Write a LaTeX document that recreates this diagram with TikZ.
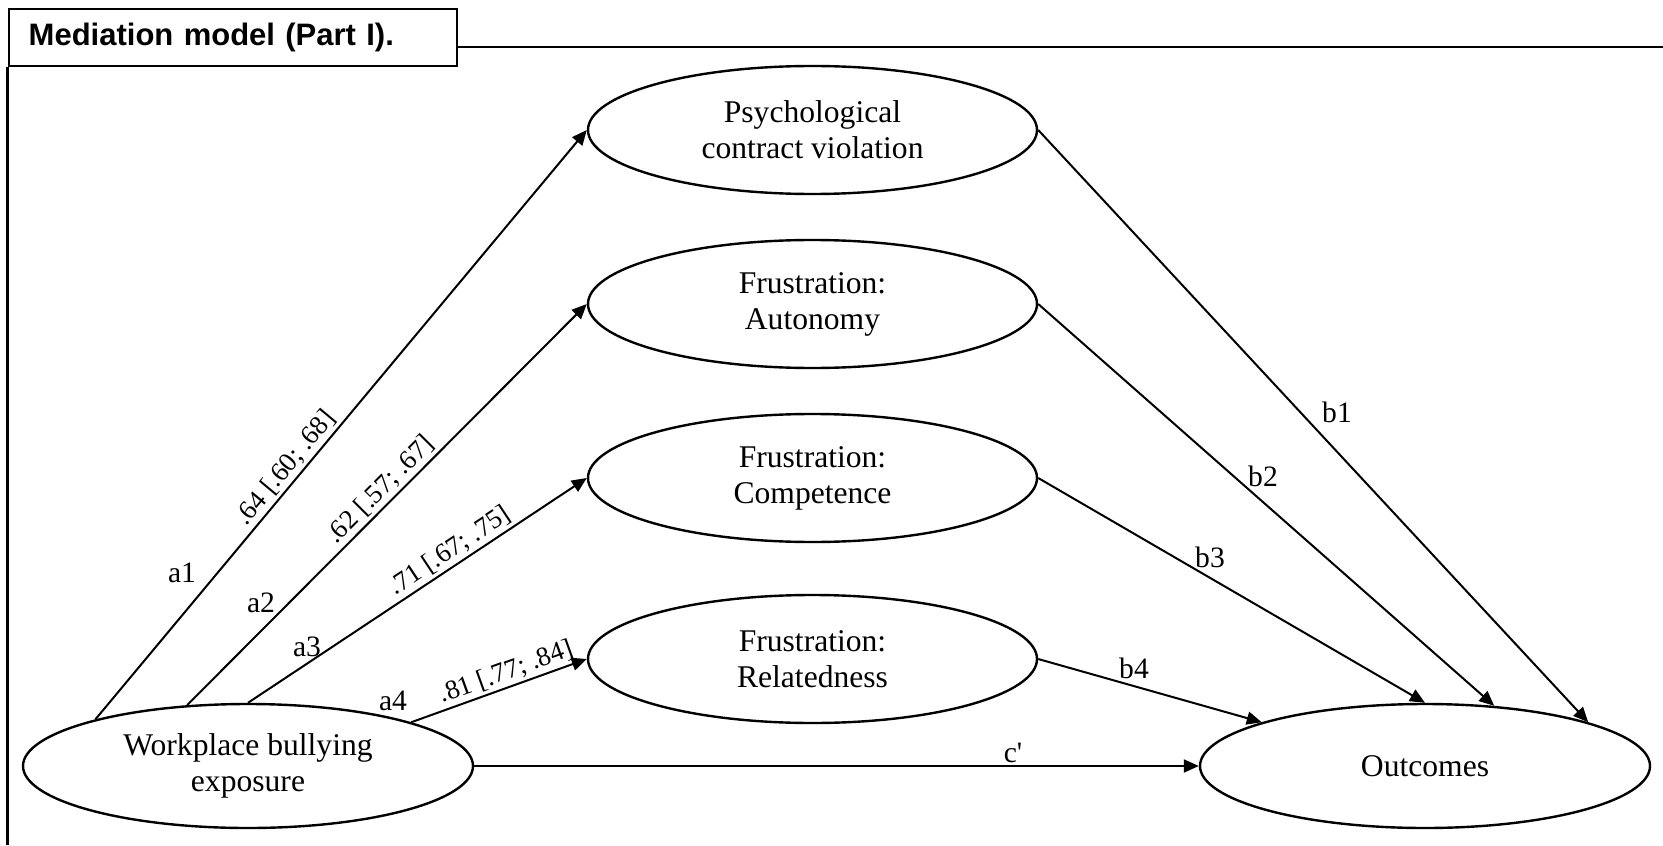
\documentclass[tikz,border=0pt]{standalone}
\usepackage{fontspec}
\setmainfont{Liberation Serif}
\newfontfamily\titlefont{Liberation Sans}
\usetikzlibrary{shapes.geometric,arrows.meta}
\begin{document}
\begin{tikzpicture}[x=0.5pt,y=-0.5pt,
  var/.style={ellipse, draw, line width=1.2pt, minimum width=224.5pt, minimum height=64pt,
    inner sep=0pt, align=center, font=\fontsize{15.8}{18}\selectfont},
  conn/.style={line width=1pt, -{Triangle[length=7.5pt,width=6.5pt]}},
  lab/.style={inner sep=0pt, font=\fontsize{14.8}{17}\selectfont},
  coef/.style={sloped, above, inner sep=1.2pt, font=\fontsize{13.5}{15}\selectfont},
  frame/.style={line width=1.2pt}
]
\useasboundingbox (0,0) rectangle (1663,845);

% title box and frame
\node[draw, line width=1pt, anchor=north west, minimum width=224.25pt, minimum height=28.4pt,
  inner xsep=10pt, inner ysep=0pt, text width=204pt, align=left,
  font=\titlefont\bfseries\fontsize{15.5}{18}\selectfont] (title) at (7.5,8.3) {Mediation model (Part I).};
\coordinate (ftop) at (1663,47);
\coordinate (fbot) at (7.5,845);
\draw[frame] (title.east |- ftop) -- (ftop);
\draw[frame] (title.south west) -- (fbot);

% variables
\node[var] (pcv) at (812.5,130) {Psychological\\contract violation};
\node[var] (aut) at (812.5,304) {Frustration:\\Autonomy};
\node[var] (comp) at (812.5,478) {Frustration:\\Competence};
\node[var] (rel) at (812.5,659) {Frustration:\\Relatedness};
\node[var, minimum width=225pt, minimum height=62pt] (wb) at (248,766) {Workplace bullying\\exposure};
\node[var, minimum width=225pt, minimum height=62pt] (out) at (1425,766) {Outcomes};

% a paths
\draw[conn] (wb.163) -- (pcv.west) node[coef, pos=0.41] {.64 [.60; .68]};
\draw[conn] (wb.135) -- (aut.west) node[coef, pos=0.51] {.62 [.57; .67]};
\draw[conn] (wb.90) -- (comp.west) node[coef, pos=0.62] {.71 [.67; .75]};
\draw[conn] (wb.15.5) -- (rel.west) node[coef, pos=0.57] {.81 [.77; .84]};

% b paths
\draw[conn] (pcv.east) -- (out.15.7);
\draw[conn] (aut.east) -- (out.41);
\draw[conn] (comp.east) -- (out.90);
\draw[conn] (rel.east) -- (out.165);

% direct path
\draw[conn] (wb.east) -- (out.west);

% labels
\node[lab] (la1) at (182,573) {a1};
\node[lab] (la2) at (261,603) {a2};
\node[lab] (la3) at (307,647) {a3};
\node[lab] (la4) at (393,701) {a4};
\node[lab] (lb1) at (1337,412) {b1};
\node[lab] (lb2) at (1263,476) {b2};
\node[lab] (lb3) at (1210,557) {b3};
\node[lab] (lb4) at (1134,668) {b4};
\node[lab] (lc) at (1013,753) {c\textquotesingle};
\end{tikzpicture}
\end{document}
